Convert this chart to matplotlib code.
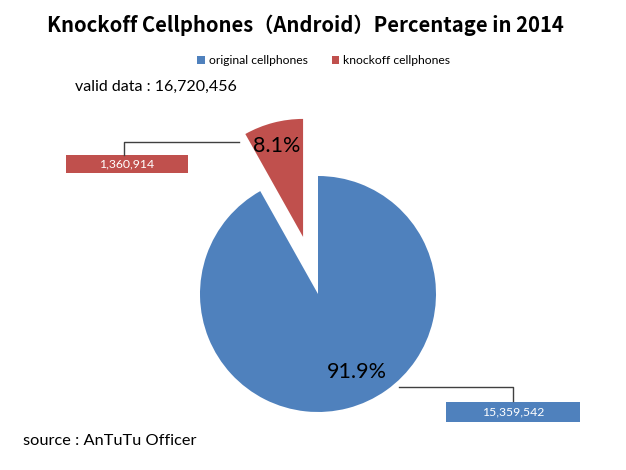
import matplotlib.pyplot as plt
from matplotlib.patches import Rectangle

# data
labels = ['original cellphones', 'knockoff cellphones']
counts = [15359542, 1360914]
count_text = ['15,359,542', '1,360,914']
colors = ['#4F81BD', '#C0504D']
total_text = 'valid data : 16,720,456'

W, H = 626, 470
R = 118.0          # pie radius in pixels
CX, CY = 318, 294  # pie centre in pixels (from top)


def px(x, y):
    # pixel position (y from top) -> data units
    return (x - CX) / R, (CY - y) / R


fig = plt.figure(figsize=(W / 100, H / 100), dpi=100)
ax = fig.add_axes([0, 0, 1, 1])
ax.axis('off')

wedges, texts, autotexts = ax.pie(counts, colors=colors, startangle=90,
                                  counterclock=False, explode=[0, 0.5],
                                  autopct='%1.1f%%', pctdistance=0.76,
                                  textprops=dict(fontsize=15.5, family='Lato'))
ax.set_aspect('equal', adjustable='datalim')
ax.set_xlim(-CX / R, (W - CX) / R)
ax.set_ylim(-(H - CY) / R, CY / R)

# excel puts the big label a bit off the middle
autotexts[0].set_position(px(357, 372))
autotexts[1].set_position(px(277, 146))

# value boxes with leader lines
boxes = [(446, 402, 134, 20), (66, 155, 122, 18)]
lines = [[(399, 387), (513, 387), (513, 401)],
         [(239, 142), (124, 142), (124, 155)]]
for (bx, by, bw, bh), pts, txt, c in zip(boxes, lines, count_text, colors):
    x0, y0 = px(bx, by + bh)
    ax.add_patch(Rectangle((x0, y0), bw / R, bh / R, facecolor=c, edgecolor='none'))
    tx, ty = px(bx + bw / 2, by + bh / 2)
    ax.text(tx, ty, txt, color='white', fontsize=8.8, family='Lato',
            ha='center', va='center')
    xs = [px(*p)[0] for p in pts]
    ys = [px(*p)[1] for p in pts]
    ax.plot(xs, ys, color='#404040', lw=1)

fig.text(305 / W, 1 - 25 / H, 'Knockoff Cellphones（Android）Percentage in 2014',
         ha='center', va='center', fontsize=14.6, fontweight='bold',
         family=['Noto Sans CJK SC', 'DejaVu Sans'])

fig.legend(wedges, labels, loc='center', bbox_to_anchor=(324 / W, 1 - 61 / H),
           ncol=2, frameon=False, handlelength=0.6, handleheight=0.6,
           handletextpad=0.35, columnspacing=2.0, prop=dict(family='Lato', size=8.7))

fig.text(75 / W, 1 - 87 / H, total_text, ha='left', va='center', fontsize=11.5,
         family='Lato')
fig.text(23 / W, 1 - 441 / H, 'source : AnTuTu Officer', ha='left', va='center',
         fontsize=11.8, family='Lato')

fig.savefig('out.png', dpi=100)
